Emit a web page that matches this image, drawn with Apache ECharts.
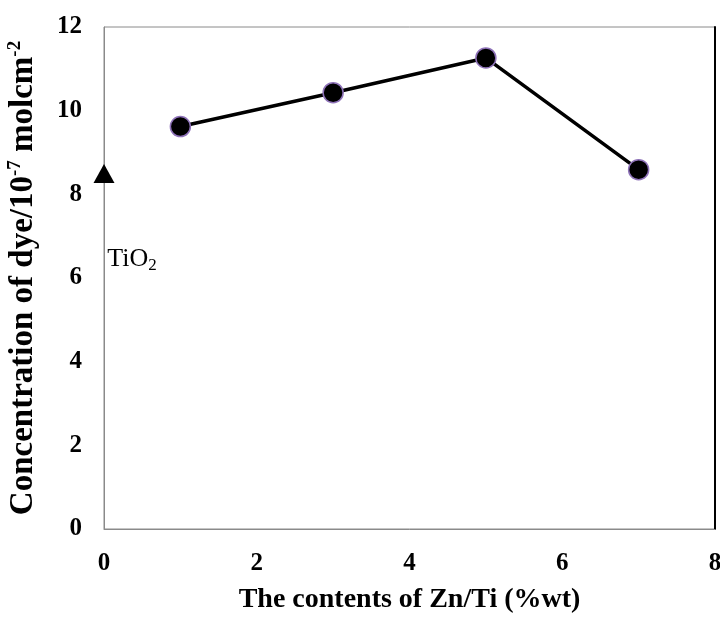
<!DOCTYPE html>
<html>
<head>
<meta charset="utf-8">
<script src="https://cdn.jsdelivr.net/npm/echarts@6/dist/echarts.min.js"></script>
<style>
  html, body { margin: 0; padding: 0; background: #fff; }
  #chart { width: 720px; height: 617px; }
</style>
</head>
<body>
<div id="chart"></div>
<script>
// Zn/Ti content (%wt) and dye concentration (10^-7 mol cm^-2)
var znContent = [1, 3, 5, 7];
var dyeConc = [9.62, 10.43, 11.26, 8.59];
// pure TiO2 reference point
var tio2Point = [0, 8.5];
var xTicks = [0, 2, 4, 6, 8];
var yTicks = [0, 2, 4, 6, 8, 10, 12];

var dom = document.getElementById('chart');
var myChart = echarts.init(dom);
var serif = '"Liberation Serif", "DejaVu Serif", serif';

var lineData = znContent.map(function (x, i) { return [x, dyeConc[i]]; });

var option = {
    animation: false,
    backgroundColor: '#fff',
    grid: {
        left: 104,
        right: 5,
        top: 27,
        bottom: 88,
        containLabel: false,
        outerBoundsMode: 'none',
        show: true,
        borderColor: '#8a8a8a',
        borderWidth: 1
    },
    xAxis: {
        type: 'value',
        min: xTicks[0],
        max: xTicks[xTicks.length - 1],
        interval: 2,
        name: 'The contents of Zn/Ti (%wt)',
        nameLocation: 'middle',
        nameGap: 57,
        nameTextStyle: { fontFamily: serif, fontWeight: 'bold', fontSize: 28, color: '#000' },
        axisLine: { show: true, lineStyle: { color: '#8a8a8a', width: 1 } },
        axisTick: { show: false },
        splitLine: { show: false },
        axisLabel: { margin: 22, fontFamily: serif, fontWeight: 'bold', fontSize: 25, color: '#000' }
    },
    yAxis: [{
        type: 'value',
        min: yTicks[0],
        max: yTicks[yTicks.length - 1],
        interval: 2,
        name: '{b|Concentration of dye/10}{s|-7}{b| molcm}{s|-2}',
        nameLocation: 'middle',
        nameGap: 64,
        nameTextStyle: {
            color: '#000',
            rich: {
                b: { fontFamily: serif, fontWeight: 'bold', fontSize: 33, color: '#000' },
                s: { fontFamily: serif, fontWeight: 'bold', fontSize: 19, color: '#000', verticalAlign: 'top', padding: [0, 0, 15, 0] }
            }
        },
        axisLine: { show: true, lineStyle: { color: '#8a8a8a', width: 1 } },
        axisTick: { show: false },
        splitLine: { show: false },
        axisLabel: { margin: 22, fontFamily: serif, fontWeight: 'bold', fontSize: 25, color: '#000' }
    }, {
        type: 'value',
        position: 'right',
        min: 0,
        max: 12,
        interval: 2,
        axisLine: { show: true, lineStyle: { color: '#000', width: 2 } },
        axisTick: { show: false },
        axisLabel: { show: false },
        splitLine: { show: false }
    }],
    series: [{
        type: 'line',
        data: lineData,
        symbol: 'circle',
        symbolSize: 20,
        lineStyle: { color: '#000', width: 3.5 },
        itemStyle: { color: '#000', borderColor: '#8e72b8', borderWidth: 1.5 },
        z: 3
    }, {
        type: 'scatter',
        data: [tio2Point],
        symbol: 'triangle',
        symbolSize: [21, 19],
        itemStyle: { color: '#000', opacity: 1 },
        label: {
            show: true,
            position: 'bottom',
            distance: 62,
            offset: [28, 0],
            color: '#000',
            formatter: '{a|TiO}{s|2}',
            rich: {
                a: { fontFamily: serif, fontSize: 26, color: '#000' },
                s: { fontFamily: serif, fontSize: 17, color: '#000', verticalAlign: 'bottom', padding: [12, 0, 0, 0] }
            }
        },
        emphasis: { disabled: true },
        z: 4
    }]
};

if (option && typeof option === "object") {
    myChart.setOption(option, true);
}
</script>
</body>
</html>
